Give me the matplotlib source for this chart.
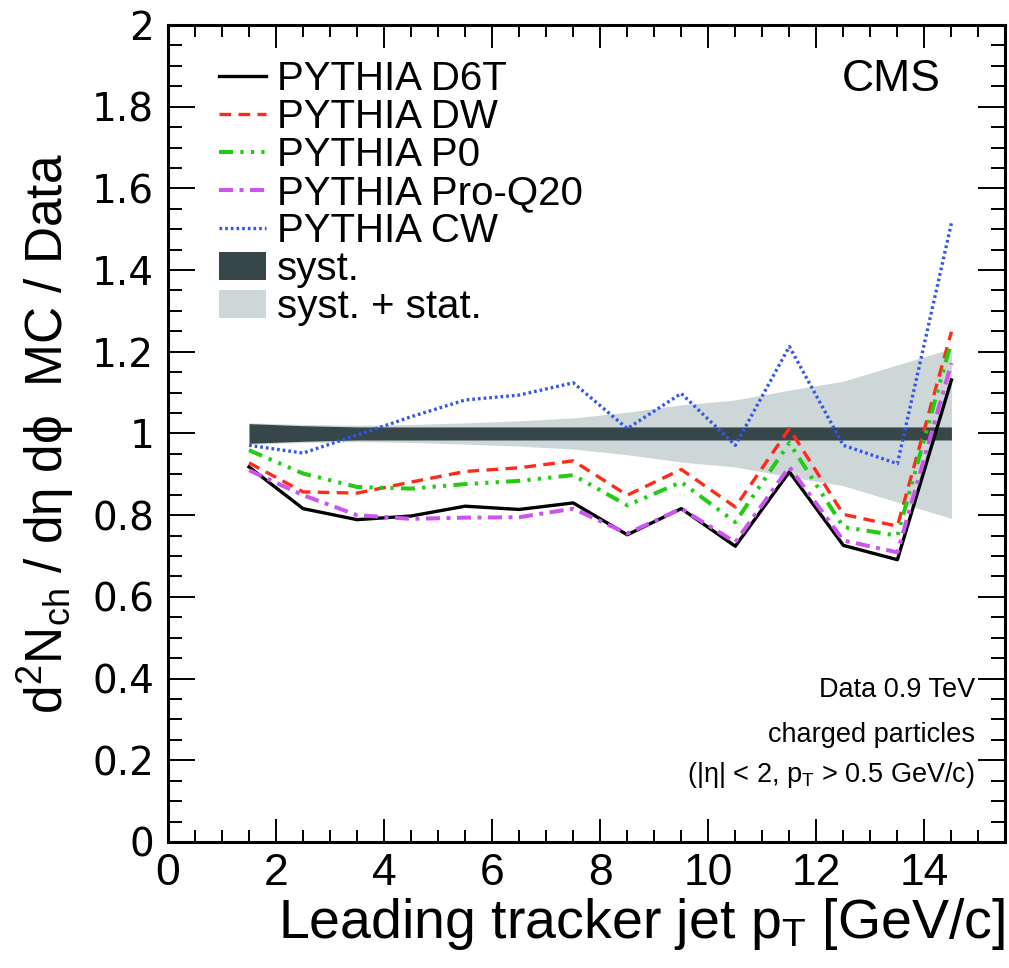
import matplotlib
matplotlib.use('Agg')
import matplotlib.pyplot as plt
import numpy as np
from matplotlib.patches import Patch
from matplotlib.lines import Line2D
from matplotlib.ticker import MultipleLocator

plt.rcParams['font.family'] = ['Liberation Sans', 'DejaVu Sans']
plt.rcParams['mathtext.fontset'] = 'custom'
plt.rcParams['mathtext.rm'] = 'Liberation Sans'
plt.rcParams['mathtext.it'] = 'Liberation Sans:italic'

# bin centres of leading tracker jet pT
pt = [1.5, 2.5, 3.5, 4.5, 5.5, 6.5, 7.5, 8.5, 9.5, 10.5, 11.5, 12.5, 13.5, 14.5]

# MC / Data ratios
d6t = [0.918, 0.816, 0.789, 0.798, 0.822, 0.814, 0.830, 0.752, 0.816, 0.724, 0.906, 0.726, 0.691, 1.131]
dw = [0.928, 0.857, 0.854, 0.881, 0.907, 0.916, 0.933, 0.849, 0.912, 0.820, 1.012, 0.802, 0.773, 1.249]
p0 = [0.959, 0.902, 0.869, 0.865, 0.876, 0.884, 0.898, 0.824, 0.881, 0.783, 0.977, 0.771, 0.750, 1.225]
proq20 = [0.910, 0.849, 0.800, 0.791, 0.794, 0.795, 0.816, 0.755, 0.816, 0.734, 0.918, 0.738, 0.709, 1.172]
cw = [0.971, 0.952, 0.996, 1.041, 1.082, 1.094, 1.124, 1.012, 1.098, 0.971, 1.213, 0.971, 0.926, 1.515]

# half widths of the uncertainty bands around 1
syst = [0.024, 0.019, 0.016, 0.016, 0.016, 0.016, 0.016, 0.016, 0.016, 0.016, 0.016, 0.016, 0.016, 0.016]
total = [0.026, 0.022, 0.020, 0.022, 0.026, 0.031, 0.038, 0.052, 0.070, 0.082, 0.106, 0.128, 0.168, 0.208]

# line styles shared by plot and legend
styles = {
    'D6T': dict(color='black', lw=2.4, ls='-'),
    'DW': dict(color='#ff2a1a', lw=2.4, ls=(0, (3.5, 2.2))),
    'P0': dict(color='#22cc11', lw=2.9, ls=(0, (3.5, 1.8, 0.8, 1.8, 0.8, 1.8, 0.8, 1.8))),
    'ProQ20': dict(color='#cc55ee', lw=2.9, ls=(0, (3.5, 1.6, 1, 1.6))),
    'CW': dict(color='#3355ee', lw=2.4, ls=(0, (0.8, 0.9))),
}

fig = plt.figure(figsize=(10.09, 9.68), dpi=100)
ax = fig.add_axes([0.1665, 0.1302, 0.8300, 0.8440])

x = np.array(pt)
tot = np.array(total)
sy = np.array(syst)
ax.fill_between(x, 1 - tot, 1 + tot, color='#cdd7d7', lw=0, zorder=1)
ax.fill_between(x, 1 - sy, 1 + sy, color='#374749', lw=0, zorder=2)

ax.plot(x, d6t, zorder=5, **styles['D6T'])
ax.plot(x, dw, zorder=5, **styles['DW'])
ax.plot(x, p0, zorder=5, **styles['P0'])
ax.plot(x, proq20, zorder=5, **styles['ProQ20'])
ax.plot(x, cw, zorder=5, **styles['CW'])

ax.set_xlim(0, 15.5)
ax.set_ylim(0, 2)
ax.xaxis.set_major_locator(MultipleLocator(2))
ax.xaxis.set_minor_locator(MultipleLocator(0.5))
ax.yaxis.set_minor_locator(MultipleLocator(0.05))
ax.set_yticks(np.arange(0, 2.01, 0.2))
ax.set_yticklabels(['0', '0.2', '0.4', '0.6', '0.8', '1', '1.2', '1.4', '1.6', '1.8', '2'],
                   fontfamily='DejaVu Sans', fontsize=28)
ax.tick_params(axis='x', which='major', direction='in', length=16.5, width=1.4,
               top=True, labelsize=32, pad=8)
ax.tick_params(axis='x', which='minor', direction='in', length=8.6, width=1.4, top=True)
ax.tick_params(axis='y', which='major', direction='in', length=19.4, width=1.4,
               right=True, pad=10)
ax.tick_params(axis='y', which='minor', direction='in', length=10, width=1.4, right=True)
for s in ax.spines.values():
    s.set_linewidth(2.2)

ax.set_xlabel(r'Leading tracker jet p$_{\mathrm{T}}$ [GeV/c]', fontsize=40, loc='right')
ax.xaxis.set_label_coords(1.0, -0.066)
ax.set_ylabel(r'd$^{2}$N$_{\mathrm{ch}}$ / dη dϕ  MC / Data', fontsize=37)
ax.yaxis.set_label_coords(-0.11, 0.5)

ax.text(0.922, 0.933, 'CMS', transform=ax.transAxes, fontsize=32, ha='right', va='center')
ax.text(0.964, 0.186, 'Data 0.9 TeV', transform=ax.transAxes, fontsize=19.5, ha='right', va='center')
ax.text(0.964, 0.131, 'charged particles', transform=ax.transAxes, fontsize=19.5, ha='right', va='center')
ax.text(0.964, 0.082, r'(|η| < 2, p$_{\mathrm{T}}$ > 0.5 GeV/c)', transform=ax.transAxes,
        fontsize=19.5, ha='right', va='center')

handles = [Line2D([], [], **styles[k]) for k in ['D6T', 'DW', 'P0', 'ProQ20', 'CW']]
handles += [Patch(facecolor='#374749', edgecolor='none'),
            Patch(facecolor='#cdd7d7', edgecolor='none')]
labels = ['PYTHIA D6T', 'PYTHIA DW', 'PYTHIA P0', 'PYTHIA Pro-Q20', 'PYTHIA CW',
          'syst.', 'syst. + stat.']
ax.legend(handles, labels, loc='upper left', bbox_to_anchor=(0.061, 0.957),
          frameon=False, fontsize=29, handlelength=1.17, handletextpad=0.27,
          handleheight=0.68, labelspacing=0.0, borderaxespad=0, borderpad=0)

fig.savefig('out.png', dpi=100)
